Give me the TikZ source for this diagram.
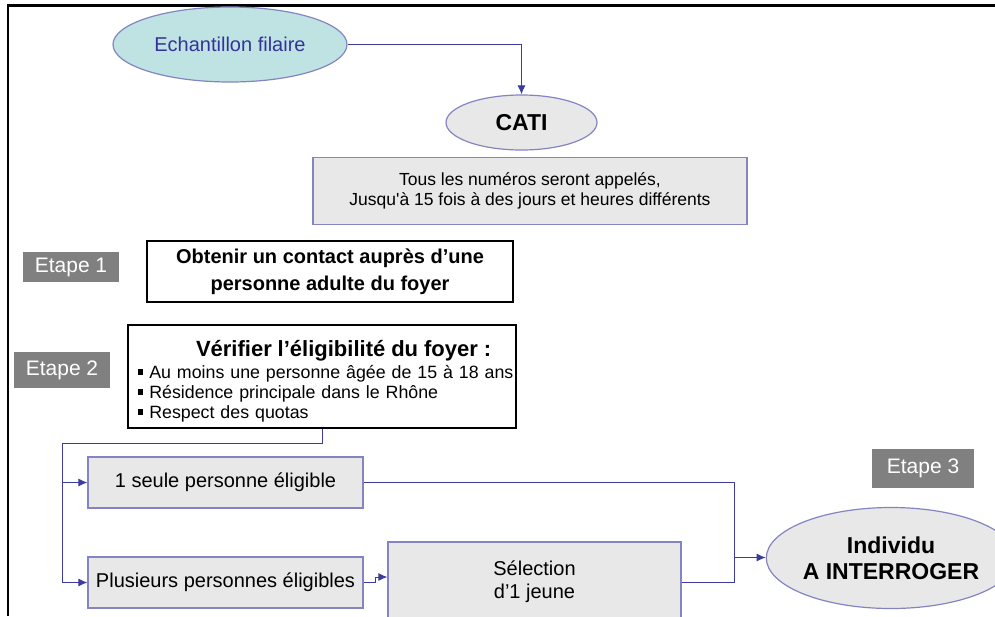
\documentclass[tikz,border=0pt]{standalone}
\usepackage{fontspec}
\setmainfont{Liberation Sans}
\usetikzlibrary{shapes.geometric,arrows.meta}
\definecolor{bleulien}{HTML}{3C3CA0}
\definecolor{bord}{HTML}{8484C4}
\definecolor{fond}{HTML}{E8E8E8}
\definecolor{turq}{HTML}{BFE3E3}
\definecolor{etgris}{HTML}{808080}
\definecolor{txtbleu}{HTML}{33339A}
\newcommand{\puce}{\rule[0.22em]{0.3em}{0.3em}\ }

\begin{document}
\begin{tikzpicture}[x=1pt,y=-1pt,
    etape/.style={fill=etgris,text=white,inner sep=0pt,font=\fontsize{21}{25}\selectfont},
    grisbox/.style={draw=bord,line width=1.2pt,fill=fond,inner sep=0pt,font=\fontsize{20}{23}\selectfont},
    blancbox/.style={draw=black,line width=1.2pt,fill=white,inner sep=0pt,font=\bfseries\fontsize{20}{27}\selectfont},
    bulle/.style={ellipse,draw=bord,line width=1.2pt,fill=fond,inner sep=0pt,font=\bfseries\fontsize{23}{26}\selectfont},
    ligne/.style={draw=bleulien,line width=1pt},
    fleche/.style={ligne,-{Latex[length=9pt,width=8pt]}}]
    \clip (0,0) rectangle (995,616);
    \fill[white] (0,0) rectangle (995,616);
    \draw[line width=2.5pt] (995,5.5) -- (8,5.5) -- (8,616);

    \node[bulle,fill=turq,text=txtbleu,font=\fontsize{20}{24}\selectfont,
      minimum width=234pt,minimum height=75pt] (ech) at (230,44.5) {Echantillon filaire};
    \node[bulle,minimum width=151pt,minimum height=55pt] (cati) at (521.5,122.5) {CATI};
    \node[grisbox,font=\fontsize{17.5}{20}\selectfont,align=center,
      minimum width=434pt,minimum height=67pt] (tous) at (530,191)
      {Tous les numéros seront appelés,\\Jusqu\textquotesingle à 15 fois à des jours et heures différents};

    \node[etape,minimum width=96pt,minimum height=30pt] (et1) at (71,267) {Etape 1};
    \node[blancbox,align=center,minimum width=366pt,minimum height=61pt] (obt) at (330,271.5)
      {Obtenir un contact auprès d’une\\personne adulte du foyer};

    \node[etape,minimum width=96pt,minimum height=36pt] (et2) at (62,370) {Etape 2};
    \node[blancbox,font=\fontsize{17.8}{20}\selectfont,align=left,text width=384pt,
      minimum width=388pt,minimum height=103pt] (verif) at (322,376.5)
      {\rule{0pt}{26pt}\hspace*{66pt}{\bfseries\fontsize{22}{20}\selectfont Vérifier l’éligibilité du foyer :}\\[2pt]
       \mbox{\hspace*{8pt}\puce Au moins une personne âgée de 15 à 18 ans}\\
       \mbox{\hspace*{8pt}\puce Résidence principale dans le Rhône}\\
       \mbox{\hspace*{8pt}\puce Respect des quotas}};

    \node[grisbox,minimum width=275pt,minimum height=51pt] (seule) at (225.5,482.5) {1 seule personne éligible};
    \node[grisbox,minimum width=275pt,minimum height=51pt] (plus) at (225.5,582.5) {Plusieurs personnes éligibles};
    \node[grisbox,align=center,minimum width=293pt,minimum height=80pt] (sel) at (534.5,582)
      {Sélection\\d’1 jeune};

    \node[etape,minimum width=102pt,minimum height=39pt] (et3) at (923,468.5) {Etape 3};
    \node[bulle,align=center,minimum width=206pt,minimum height=101pt] (indiv) at (891,558)
      {Individu\\A INTERROGER};

    \draw[fleche] (ech.east) -| (cati.north);

    \coordinate (bran) at (62,443);
    \draw[ligne] (verif.south) |- (bran) -- (bran |- plus.west);
    \draw[fleche] (bran |- seule.west) -- (seule.west);
    \draw[fleche] (bran |- plus.west) -- (plus.west);
    \draw[fleche] (plus.east) -- ++(12,0) -- ++(0,-5.5) -- ([yshift=5pt]sel.west);

    \coordinate (jonc) at (734,557.5);
    \draw[ligne] (seule.east) -| (jonc);
    \draw[ligne] (sel.east) -| (jonc);
    \draw[fleche] (jonc) -- (jonc -| indiv.west);
\end{tikzpicture}
\end{document}
